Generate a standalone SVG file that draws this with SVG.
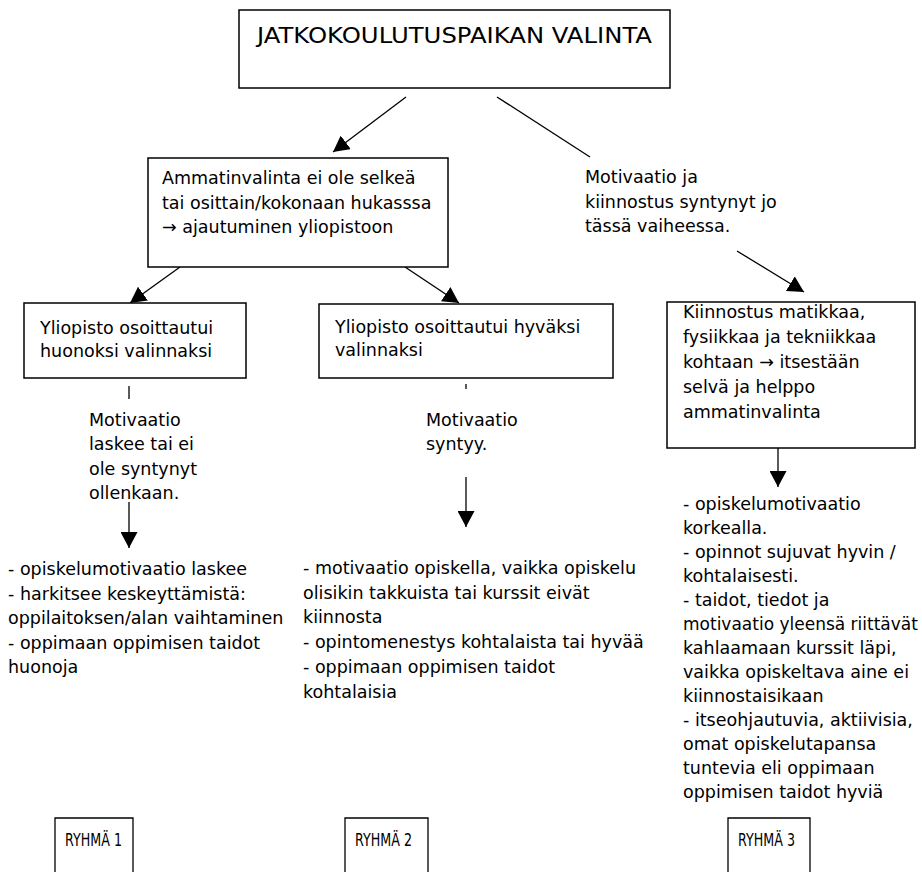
<svg xmlns="http://www.w3.org/2000/svg" width="922" height="872" viewBox="0 0 922 872">
<style>
text{font-family:"DejaVu Sans","Liberation Sans",sans-serif;font-size:17.5px;fill:#000}
.t{font-size:22px}
.r{font-size:17px}
.s{font-size:17px}
.box{fill:#fff;stroke:#000;stroke-width:1.5}
.ln{stroke:#000;stroke-width:1.3;fill:none}
</style>
<defs>
<marker id="ah" markerUnits="userSpaceOnUse" markerWidth="17" markerHeight="17" refX="16" refY="8.5" orient="auto">
<path d="M0,0 L16,8.5 L0,17 z" fill="#000"/>
</marker>
</defs>
<rect width="922" height="872" fill="#fff"/>
<g id="connectors">
<line class="ln" x1="406" y1="97" x2="333" y2="152" marker-end="url(#ah)"/>
<line class="ln" x1="497" y1="97" x2="590" y2="157"/>
<line class="ln" x1="180" y1="267" x2="130" y2="303" marker-end="url(#ah)"/>
<line class="ln" x1="405" y1="267" x2="459" y2="303" marker-end="url(#ah)"/>
<line class="ln" x1="737" y1="251" x2="804" y2="292" marker-end="url(#ah)"/>
<line class="ln" x1="129" y1="386" x2="129" y2="399"/>
<line class="ln" x1="129" y1="502" x2="129" y2="548" marker-end="url(#ah)"/>
<line class="ln" x1="466" y1="384" x2="466" y2="389"/>
<line class="ln" x1="466" y1="477" x2="466" y2="527" marker-end="url(#ah)"/>
<line class="ln" x1="778" y1="448" x2="778" y2="487" marker-end="url(#ah)"/>
</g>
<g id="title">
<rect class="box" x="239" y="10" width="431" height="78"/>
<text class="t" x="257" y="43" textLength="395" lengthAdjust="spacingAndGlyphs">JATKOKOULUTUSPAIKAN VALINTA</text>
</g>
<g id="n-ammatinvalinta">
<rect class="box" x="148" y="158" width="300" height="109"/>
<text x="162" y="184">Ammatinvalinta ei ole selkeä</text>
<text x="162" y="209">tai osittain/kokonaan hukasssa</text>
<text x="162" y="233">→ ajautuminen yliopistoon</text>
</g>
<g id="n-motivaatio-ja">
<text x="585" y="183">Motivaatio ja</text>
<text x="585" y="208">kiinnostus syntynyt jo</text>
<text x="585" y="232">tässä vaiheessa.</text>
</g>
<g id="n-huonoksi">
<rect class="box" x="24" y="303" width="222" height="75"/>
<text x="40" y="334">Yliopisto osoittautui</text>
<text x="40" y="357">huonoksi valinnaksi</text>
</g>
<g id="n-hyvaksi">
<rect class="box" x="319" y="304" width="294" height="74"/>
<text x="335" y="333">Yliopisto osoittautui hyväksi</text>
<text x="335" y="356">valinnaksi</text>
</g>
<g id="n-kiinnostus">
<rect class="box" x="667" y="302" width="248" height="146"/>
<text x="683" y="318">Kiinnostus matikkaa,</text>
<text x="683" y="343">fysiikkaa ja tekniikkaa</text>
<text x="683" y="368">kohtaan → itsestään</text>
<text x="683" y="393">selvä ja helppo</text>
<text x="683" y="418">ammatinvalinta</text>
</g>
<g id="n-motivaatio-laskee">
<text x="89" y="426">Motivaatio</text>
<text x="89" y="450">laskee tai ei</text>
<text x="89" y="475">ole syntynyt</text>
<text x="89" y="499">ollenkaan.</text>
</g>
<g id="n-motivaatio-syntyy">
<text x="426" y="426">Motivaatio</text>
<text x="426" y="450">syntyy.</text>
</g>
<g id="n-list1">
<text x="8" y="575">- opiskelumotivaatio laskee</text>
<text x="8" y="600">- harkitsee keskeyttämistä:</text>
<text x="8" y="624">oppilaitoksen/alan vaihtaminen</text>
<text x="8" y="649">- oppimaan oppimisen taidot</text>
<text x="8" y="673">huonoja</text>
</g>
<g id="n-list2">
<text x="303" y="574">- motivaatio opiskella, vaikka opiskelu</text>
<text x="303" y="599">olisikin takkuista tai kurssit eivät</text>
<text x="303" y="623">kiinnosta</text>
<text x="303" y="648">- opintomenestys kohtalaista tai hyvää</text>
<text x="303" y="673">- oppimaan oppimisen taidot</text>
<text x="303" y="698">kohtalaisia</text>
</g>
<g id="n-list3">
<text x="683" y="510">- opiskelumotivaatio</text>
<text x="683" y="534">korkealla.</text>
<text x="683" y="558">- opinnot sujuvat hyvin /</text>
<text x="683" y="582">kohtalaisesti.</text>
<text x="683" y="606">- taidot, tiedot ja</text>
<text class="s" x="683" y="630">motivaatio yleensä riittävät</text>
<text x="683" y="654">kahlaamaan kurssit läpi,</text>
<text x="683" y="678">vaikka opiskeltava aine ei</text>
<text x="683" y="702">kiinnostaisikaan</text>
<text x="683" y="726">- itseohjautuvia, aktiivisia,</text>
<text x="683" y="750">omat opiskelutapansa</text>
<text x="683" y="774">tuntevia eli oppimaan</text>
<text x="683" y="798">oppimisen taidot hyviä</text>
</g>
<g id="n-ryhma1">
<path class="ln" d="M55,872 V818 H133 V872" stroke-width="1.5"/>
<text class="r" x="65" y="846" textLength="57" lengthAdjust="spacingAndGlyphs">RYHMÄ 1</text>
</g>
<g id="n-ryhma2">
<path class="ln" d="M345,872 V818 H428 V872" stroke-width="1.5"/>
<text class="r" x="355" y="846" textLength="57" lengthAdjust="spacingAndGlyphs">RYHMÄ 2</text>
</g>
<g id="n-ryhma3">
<path class="ln" d="M728,872 V818 H810 V872" stroke-width="1.5"/>
<text class="r" x="738" y="846" textLength="57" lengthAdjust="spacingAndGlyphs">RYHMÄ 3</text>
</g>
</svg>
